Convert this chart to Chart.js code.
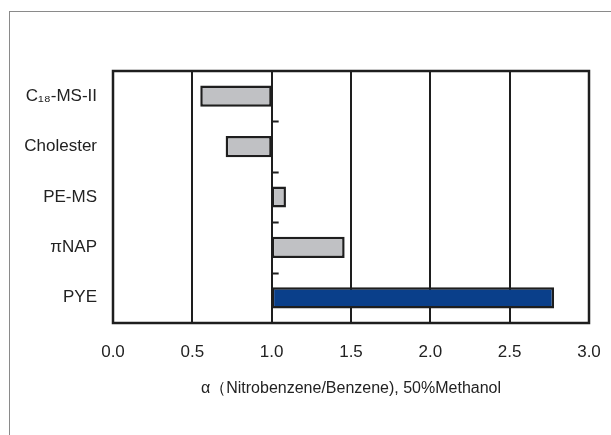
<!DOCTYPE html>
<html>
<head>
<meta charset="utf-8">
<script src="https://cdn.jsdelivr.net/npm/chart.js@4"></script>
<style>
  html, body { margin: 0; padding: 0; background: #fff; }
  #wrap { width: 611px; height: 435px; position: relative; }
</style>
</head>
<body>
<div id="wrap"><canvas id="chart"></canvas></div>
<script>
// data
const categories = ['C₁₈-MS-II', 'Cholester', 'PE-MS', 'πNAP', 'PYE'];
const alphaValues = [0.55, 0.71, 1.09, 1.46, 2.78];
const baseValue = 1.0;
const xTicks = [0, 0.5, 1.0, 1.5, 2.0, 2.5, 3.0];
const barColors = ['#c0c1c4', '#c0c1c4', '#c0c1c4', '#c0c1c4', '#0a3f8a'];

const FONT = '"Liberation Sans", Arial, "DejaVu Sans", sans-serif';

// gray outer frame + plot border + small ticks on the 1.0 line
const framePlugin = {
    id: 'frame',
    beforeDraw(chart) {
        const ctx = chart.ctx;
        ctx.save();
        ctx.fillStyle = '#fff';
        ctx.fillRect(0, 0, chart.width, chart.height);
        ctx.strokeStyle = '#8a8a8a';
        ctx.lineWidth = 1;
        ctx.strokeRect(9.5, 11.5, 800, 600);
        ctx.restore();
    },
    afterDatasetsDraw(chart) {
        const ctx = chart.ctx;
        const a = chart.chartArea;
        const x = chart.scales.x;
        const y = chart.scales.y;
        ctx.save();
        ctx.strokeStyle = '#1e1e1e';
        ctx.lineWidth = 2;
        const x0 = x.getPixelForValue(baseValue);
        for (let i = 0; i < categories.length - 1; i++) {
            const py = Math.round(y.getPixelForValue(i + 0.5)) + 0.5;
            ctx.beginPath();
            ctx.moveTo(x0, py);
            ctx.lineTo(x0 + 7, py);
            ctx.stroke();
        }
        ctx.lineWidth = 2.5;
        ctx.strokeRect(a.left, a.top, a.right - a.left, a.bottom - a.top);
        ctx.restore();
    }
};

new Chart(document.getElementById('chart'), {
    type: 'bar',
    data: {
        labels: categories,
        datasets: [{
            data: alphaValues.map(v => [baseValue, v]),
            backgroundColor: barColors,
            borderColor: '#1e1e1e',
            borderWidth: 2.5,
            borderSkipped: false,
            barPercentage: 0.42,
            categoryPercentage: 1.0
        }]
    },
    options: {
        indexAxis: 'y',
        responsive: true,
        maintainAspectRatio: false,
        animation: false,
        layout: { padding: { top: 71, right: 22, left: 0, bottom: 37 } },
        plugins: {
            legend: { display: false },
            tooltip: { enabled: false }
        },
        scales: {
            x: {
                min: 0,
                max: 3,
                afterBuildTicks(scale) {
                    scale.ticks = xTicks.map(v => ({ value: v }));
                },
                afterFit(scale) {
                    scale.height = 75;
                    scale.paddingLeft = 0;
                    scale.paddingRight = 0;
                },
                grid: {
                    color: '#1e1e1e',
                    lineWidth: 2,
                    drawTicks: false
                },
                border: { display: false },
                ticks: {
                    padding: 19,
                    color: '#222',
                    font: { family: FONT, size: 17 },
                    callback: v => Number(v).toFixed(1)
                },
                title: {
                    display: true,
                    text: 'α（Nitrobenzene/Benzene), 50%Methanol',
                    color: '#222',
                    padding: 0,
                    font: { family: FONT, size: 16 }
                }
            },
            y: {
                afterFit(scale) { scale.width = 113; },
                grid: { display: false, drawTicks: false },
                border: { display: false },
                ticks: {
                    padding: 16,
                    color: '#222',
                    font: { family: FONT, size: 17 }
                }
            }
        }
    },
    plugins: [framePlugin]
});
</script>
</body>
</html>
